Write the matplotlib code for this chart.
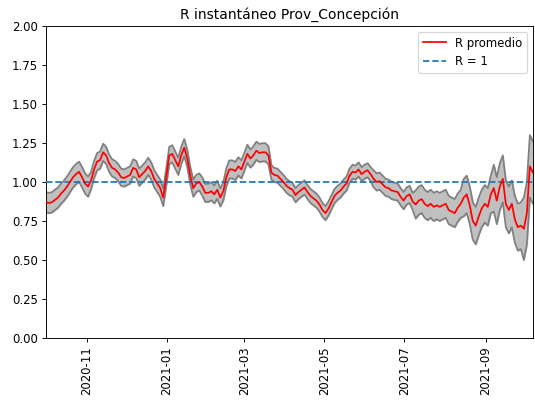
import matplotlib
matplotlib.use("Agg")
import matplotlib.pyplot as plt
import matplotlib.dates as mdates
import numpy as np
import pandas as pd

start_date = "2020-10-01"
end_date = "2021-10-07"

r_mean = [
    0.87, 0.865, 0.87, 0.885, 0.90, 0.925, 0.945, 0.97, 1.0, 1.03,
    1.05, 1.065, 1.03, 0.99, 0.97, 1.01, 1.08, 1.13, 1.14, 1.19,
    1.17, 1.12, 1.09, 1.08, 1.06, 1.03, 1.025, 1.035, 1.045, 1.09,
    1.08, 1.03, 1.05, 1.07, 1.10, 1.07, 1.02, 0.99, 0.96, 0.90,
    1.03, 1.17, 1.18, 1.14, 1.10, 1.17, 1.22, 1.15, 1.04, 0.96,
    0.99, 1.0, 0.97, 0.93, 0.93, 0.94, 0.92, 0.95, 0.90, 0.94,
    1.03, 1.08, 1.08, 1.07, 1.10, 1.08, 1.13, 1.18, 1.15, 1.17,
    1.2, 1.185, 1.19, 1.19, 1.17, 1.06, 1.045, 1.04, 1.02, 1.0,
    0.975, 0.96, 0.95, 0.915, 0.935, 0.95, 0.965, 0.935, 0.91, 0.895,
    0.88, 0.855, 0.82, 0.80, 0.83, 0.87, 0.91, 0.93, 0.945, 0.97,
    0.99, 1.04, 1.065, 1.06, 1.08, 1.05, 1.065, 1.075, 1.05, 1.02,
    1.0, 1.005, 0.985, 0.965, 0.96, 0.945, 0.94, 0.935, 0.905, 0.88,
    0.91, 0.92, 0.875, 0.855, 0.88, 0.89, 0.86, 0.845, 0.86, 0.84,
    0.85, 0.84, 0.85, 0.86, 0.82, 0.81, 0.80, 0.835, 0.86, 0.9,
    0.92, 0.85, 0.75, 0.72, 0.78, 0.83, 0.86, 0.84, 0.92, 0.96,
    0.88, 0.97, 1.02, 0.86, 0.82, 0.86, 0.76, 0.71, 0.72, 0.70,
    0.80, 1.10, 1.06,
]

half_width = ([0.065] * 15 + [0.055] * 37 + [0.058] * 23 + [0.045] * 34
              + [0.055] * 14 + [0.09] * 16 + [0.12] * 10 + [0.15] * 10 + [0.2] * 4)

dates = pd.date_range(start_date, end_date, periods=len(r_mean))
mean = np.array(r_mean)
hw = np.array(half_width)
lower = mean - hw
upper = mean + hw

fig = plt.figure(figsize=(6.4, 4.8), dpi=535 / 6.4)
ax = fig.add_axes([0.086, 0.157, 0.91, 0.778])

ax.fill_between(dates, lower, upper, color="#c0c0c0", zorder=1)
ax.plot(dates, lower, color="gray", lw=1.5, zorder=2)
ax.plot(dates, upper, color="gray", lw=1.5, zorder=2)
ax.plot(dates, mean, color="red", lw=1.5, label="R promedio", zorder=4)
ax.plot(dates, np.ones(len(dates)), "--", color="#1f77b4", lw=1.5, label="R = 1", zorder=3)

ax.set_xlim(dates[0], dates[-1])
ax.set_ylim(0, 2.0)
ax.set_yticks(np.arange(0, 2.01, 0.25))
ax.xaxis.set_major_locator(mdates.MonthLocator(bymonth=[1, 3, 5, 7, 9, 11]))
ax.xaxis.set_major_formatter(mdates.DateFormatter("%Y-%m"))
plt.setp(ax.get_xticklabels(), rotation=90)
ax.set_title("R instantáneo Prov_Concepción")
ax.legend(loc="upper right")

fig.savefig("out.png", dpi=535 / 6.4)
